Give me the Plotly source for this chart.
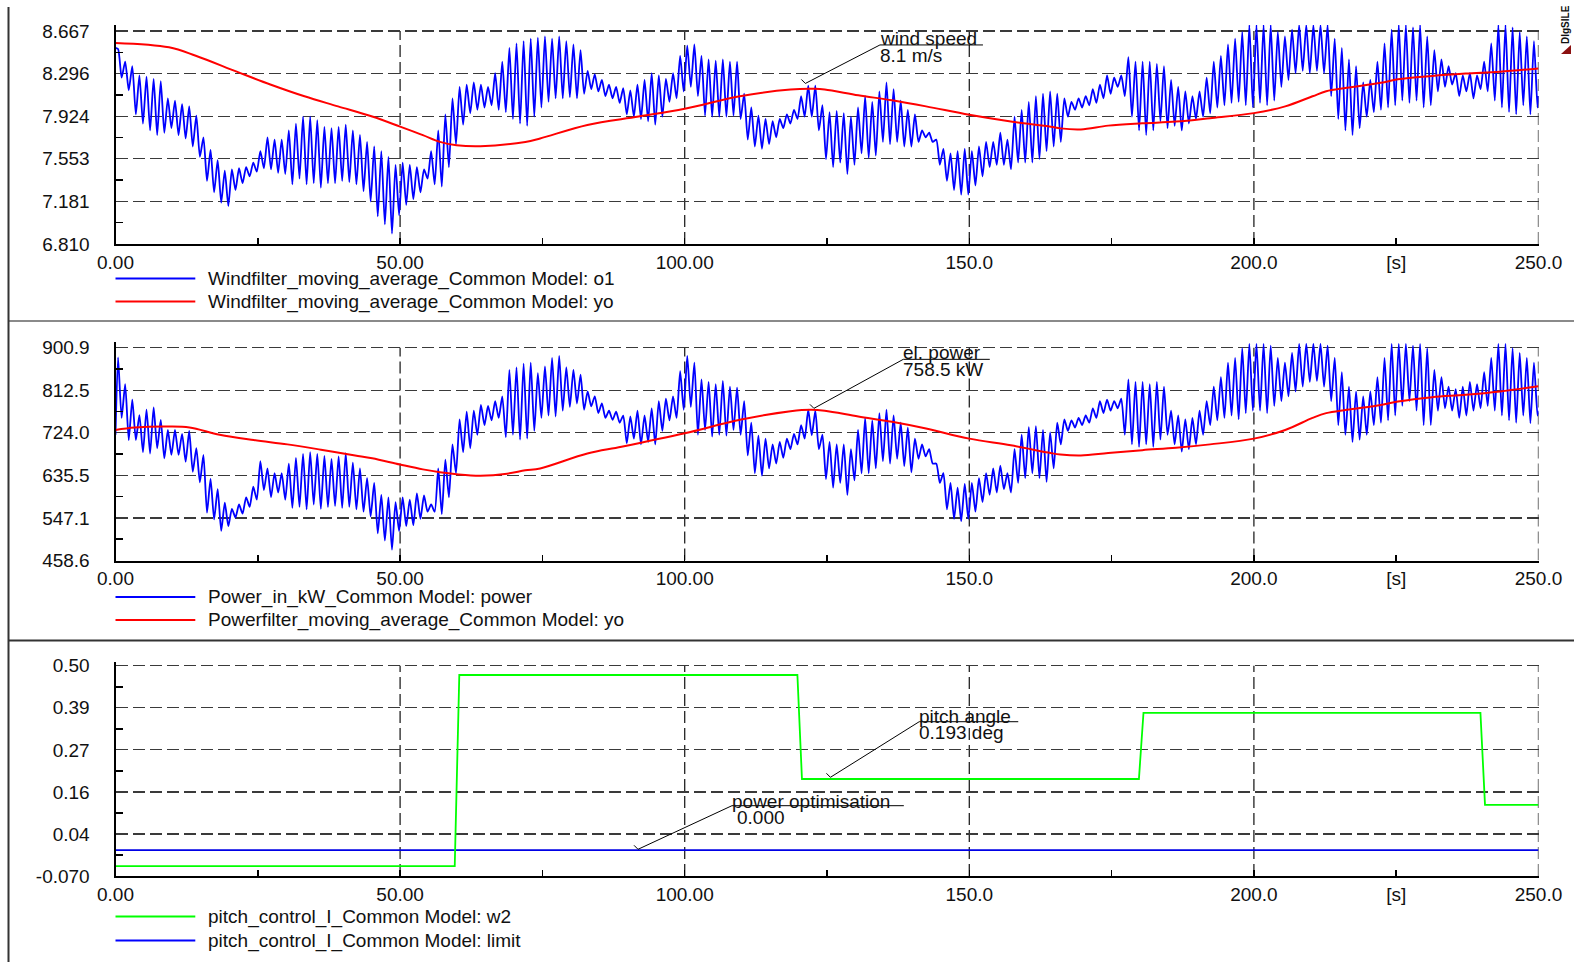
import plotly.graph_objects as go

W, H = 1574, 962

# ---------------- data ----------------
# Panel 1: wind speed (blue: raw, per oscillation cycle peak / trough), 1.25 s per cycle
wind_hi = [
    8.51, 8.40, 8.36, 8.28, 8.27, 8.25, 8.23, 8.08,
    8.06, 8.03, 8.01, 7.93, 7.74, 7.63, 7.54, 7.45,
    7.46, 7.47, 7.48, 7.52, 7.62, 7.74, 7.72, 7.72,
    7.80, 7.86, 7.92, 7.92, 7.89, 7.83, 7.82, 7.83,
    7.85, 7.80, 7.76, 7.70, 7.66, 7.62, 7.57, 7.50,
    7.52, 7.50, 7.48, 7.46, 7.62, 7.80, 7.94, 8.08,
    8.18, 8.20, 8.22, 8.20, 8.18, 8.30, 8.40, 8.52,
    8.56, 8.58, 8.60, 8.61, 8.62, 8.60, 8.62, 8.58,
    8.55, 8.50, 8.32, 8.29, 8.24, 8.20, 8.18, 8.17,
    8.15, 8.20, 8.24, 8.30, 8.28, 8.25, 8.30, 8.45,
    8.54, 8.55, 8.45, 8.42, 8.41, 8.42, 8.40, 8.40,
    8.12, 8.00, 7.93, 7.90, 7.88, 7.90, 7.94, 7.98,
    8.10, 8.19, 8.19, 8.02, 7.96, 7.97, 7.95, 7.92,
    8.00, 8.10, 8.05, 8.14, 8.22, 8.16, 8.06, 7.98,
    7.94, 7.80, 7.78, 7.72, 7.64, 7.60, 7.62, 7.64,
    7.62, 7.66, 7.70, 7.70, 7.78, 7.72, 7.92, 7.98,
    8.05, 8.10, 8.12, 8.14, 8.12, 8.08, 8.05, 8.08,
    8.10, 8.16, 8.20, 8.28, 8.26, 8.28, 8.44, 8.40,
    8.40, 8.40, 8.38, 8.36, 8.24, 8.18, 8.14, 8.10,
    8.14, 8.26, 8.40, 8.45, 8.55, 8.60, 8.66, 8.72,
    8.72, 8.72, 8.72, 8.66, 8.62, 8.68, 8.72, 8.72,
    8.72, 8.72, 8.72, 8.60, 8.52, 8.42, 8.36, 8.22,
    8.24, 8.40, 8.56, 8.68, 8.72, 8.72, 8.70, 8.72,
    8.62, 8.50, 8.42, 8.36, 8.30, 8.28, 8.30, 8.28,
    8.40, 8.56, 8.72, 8.72, 8.70, 8.66, 8.62, 8.58,
]
wind_lo = [
    8.26, 8.15, 7.94, 7.86, 7.80, 7.76, 7.78, 7.82,
    7.76, 7.73, 7.66, 7.57, 7.36, 7.26, 7.17, 7.14,
    7.28, 7.34, 7.40, 7.44, 7.47, 7.46, 7.43, 7.42,
    7.33, 7.38, 7.33, 7.34, 7.30, 7.34, 7.34, 7.36,
    7.35, 7.33, 7.27, 7.18, 7.05, 6.98, 6.90, 7.06,
    7.15, 7.20, 7.26, 7.38, 7.33, 7.31, 7.48, 7.68,
    7.85, 7.95, 7.98, 8.00, 8.02, 7.98, 7.96, 7.90,
    7.86, 7.84, 7.92, 8.00, 8.05, 8.08, 8.08, 8.09,
    8.08, 8.12, 8.16, 8.14, 8.10, 8.08, 8.04, 7.94,
    7.92, 7.90, 7.88, 7.85, 7.92, 8.05, 8.08, 8.14,
    8.18, 8.10, 7.93, 7.92, 7.92, 7.92, 7.93, 7.90,
    7.72, 7.66, 7.64, 7.68, 7.74, 7.82, 7.86, 7.90,
    7.92, 7.92, 7.80, 7.55, 7.48, 7.52, 7.42, 7.50,
    7.60, 7.56, 7.58, 7.70, 7.68, 7.70, 7.66, 7.66,
    7.70, 7.74, 7.70, 7.50, 7.36, 7.28, 7.24, 7.24,
    7.32, 7.40, 7.48, 7.50, 7.50, 7.46, 7.52, 7.52,
    7.52, 7.55, 7.62, 7.66, 7.70, 7.92, 7.98, 8.00,
    8.02, 8.04, 8.08, 8.12, 8.18, 8.10, 7.92, 7.80,
    7.76, 7.80, 7.88, 7.82, 7.84, 7.80, 7.86, 7.90,
    7.92, 7.95, 8.00, 8.02, 8.04, 8.05, 8.02, 8.00,
    8.04, 8.02, 8.06, 8.18, 8.24, 8.30, 8.32, 8.30,
    8.32, 8.30, 8.10, 7.90, 7.80, 7.76, 7.82, 7.92,
    7.96, 7.98, 8.00, 8.02, 8.06, 8.04, 8.06, 8.00,
    8.02, 8.14, 8.18, 8.20, 8.10, 8.14, 8.08, 8.16,
    8.14, 8.06, 8.00, 7.96, 7.94, 8.02, 7.94, 8.00,
]
wind_start, wind_end = 8.52, 8.10

wf_t = [0, 9.4, 14.1, 21.3, 27.2, 33.2, 39.1, 45.1, 50, 54, 57, 59.9, 64.1, 72,
        74.6, 82.9, 91.9, 100, 109.7, 118.6, 122.8, 124.6, 130.5, 136.4, 142.4,
        150, 157.3, 164.3, 166, 169.6, 174.4, 180.4, 186.3, 192.3, 200, 205.5,
        210.3, 212.7, 216.3, 222.3, 225.3, 231.3, 237.2, 243.2, 250]
wf_v = [8.564, 8.526, 8.452, 8.313, 8.201, 8.098, 8.010, 7.921, 7.833, 7.759,
        7.700, 7.671, 7.662, 7.700, 7.730, 7.848, 7.921, 7.989, 8.098, 8.157,
        8.163, 8.157, 8.107, 8.063, 8.010, 7.936, 7.877, 7.833, 7.818, 7.809,
        7.842, 7.862, 7.877, 7.907, 7.951, 8.010, 8.098, 8.142, 8.172, 8.216,
        8.246, 8.275, 8.296, 8.313, 8.340]

# Panel 2: electrical power [kW]
pow_hi = [
    881, 825, 793, 761, 772, 777, 751, 730,
    730, 722, 728, 692, 678, 628, 607, 579,
    566, 575, 590, 612, 665, 650, 640, 640,
    660, 672, 680, 684, 680, 676, 670, 675,
    682, 662, 650, 630, 620, 595, 590, 580,
    590, 585, 598, 594, 575, 650, 668, 700,
    752, 768, 770, 782, 780, 790, 800, 855,
    860, 868, 870, 848, 862, 880, 884, 860,
    855, 845, 810, 800, 785, 770, 768, 760,
    758, 770, 760, 775, 790, 795, 800, 852,
    884, 870, 835, 830, 825, 832, 820, 818,
    790, 745, 718, 712, 700, 705, 712, 722,
    740, 772, 770, 720, 705, 700, 700, 690,
    730, 755, 750, 765, 772, 760, 745, 735,
    712, 700, 690, 660, 640, 620, 610, 618,
    620, 630, 640, 650, 656, 640, 690, 720,
    736, 738, 730, 725, 745, 752, 750, 755,
    760, 775, 790, 793, 790, 795, 835, 830,
    830, 825, 830, 820, 770, 760, 752, 755,
    770, 790, 820, 840, 870, 880, 900, 909,
    909, 909, 905, 880, 870, 890, 909, 909,
    909, 909, 905, 880, 850, 820, 810, 800,
    810, 840, 880, 909, 909, 909, 905, 909,
    900, 855, 840, 820, 815, 820, 830, 825,
    850, 880, 909, 909, 900, 890, 880, 870,
]
pow_lo = [
    755, 709, 709, 684, 681, 692, 671, 678,
    678, 664, 643, 621, 558, 544, 520, 530,
    548, 556, 570, 585, 605, 590, 600, 585,
    568, 570, 565, 575, 566, 570, 572, 568,
    570, 565, 560, 550, 515, 500, 481, 520,
    530, 532, 545, 560, 560, 555, 590, 640,
    684, 692, 720, 740, 750, 755, 715, 720,
    710, 712, 728, 755, 760, 758, 770, 778,
    785, 772, 779, 765, 755, 751, 745, 702,
    712, 700, 705, 700, 728, 750, 755, 772,
    778, 720, 730, 716, 720, 718, 730, 720,
    677, 640, 635, 650, 660, 672, 690, 700,
    712, 719, 690, 628, 610, 620, 595, 625,
    640, 640, 650, 665, 660, 670, 655, 642,
    670, 675, 660, 620, 565, 545, 540, 545,
    560, 580, 595, 600, 607, 600, 620, 630,
    640, 630, 622, 650, 700, 728, 735, 740,
    745, 755, 765, 770, 775, 720, 700, 695,
    700, 695, 710, 720, 700, 685, 690, 700,
    720, 740, 750, 755, 760, 752, 765, 770,
    770, 765, 780, 790, 800, 810, 820, 830,
    832, 820, 790, 740, 720, 705, 710, 720,
    740, 745, 750, 760, 780, 790, 770, 740,
    740, 770, 775, 770, 755, 760, 770, 775,
    780, 770, 760, 750, 745, 760, 744, 760,
]
pow_start, pow_end = 720, 770

pf_t = [0, 3.4, 9.4, 13, 18.3, 24.3, 30.2, 36.1, 42.1, 45.1, 50, 54, 57, 59.9,
        64.1, 68.8, 72, 74.6, 82.9, 88.9, 100, 109.7, 118.6, 122.2, 124.6, 130.5,
        136.4, 142.4, 150, 157.3, 164.3, 166, 169.6, 174.4, 180.4, 186.3, 192.3,
        200, 205.5, 210.3, 212.7, 216.3, 222.3, 225.3, 231.3, 237.2, 243.2, 250]
pf_v = [730, 735, 737, 735, 720, 709, 700, 689, 677, 671, 658, 648, 642, 638,
        635, 639, 646, 650, 681, 695, 723, 751, 769, 772, 770, 758, 747, 733,
        712, 698, 682, 679, 677, 682, 688, 693, 700, 712, 730, 755, 765, 772,
        782, 789, 798, 803, 810, 821]

# Panel 3: pitch control
pitch_t = [0, 59.6, 60.4, 119.8, 120.6, 179.8, 180.6, 239.8, 240.6, 250]
pitch_v = [-0.043, -0.043, 0.475, 0.475, 0.193, 0.193, 0.372, 0.372, 0.123, 0.123]
limit_t = [0, 250]
limit_v = [0.0, 0.0]

x_tickvals = [0, 50, 100, 150, 200, 225, 250]
x_ticktext = ["0.00", "50.00", "100.00", "150.0", "200.0", "[s]", "250.0"]
x_grid = [50, 100, 150, 200, 250]

y1_tickvals = [6.810, 7.1814, 7.5528, 7.9242, 8.2956, 8.667]
y1_ticktext = ["6.810", "7.181", "7.553", "7.924", "8.296", "8.667"]
y2_tickvals = [458.6, 547.06, 635.52, 723.98, 812.44, 900.9]
y2_ticktext = ["458.6", "547.1", "635.5", "724.0", "812.5", "900.9"]
y3_tickvals = [-0.07, 0.044, 0.158, 0.272, 0.386, 0.5]
y3_ticktext = ["-0.070", "0.04", "0.16", "0.27", "0.39", "0.50"]

legend_texts = [
    ["Windfilter_moving_average_Common Model: o1", "Windfilter_moving_average_Common Model: yo"],
    ["Power_in_kW_Common Model: power", "Powerfilter_moving_average_Common Model: yo"],
    ["pitch_control_I_Common Model: w2", "pitch_control_I_Common Model: limit"],
]
legend_colors = [["#0000FF", "#FF0000"], ["#0000FF", "#FF0000"], ["#00FF00", "#0000FF"]]


def osc(hi, lo, start, end):
    t, v = [0.0], [start]
    for k, (h, l) in enumerate(zip(hi, lo)):
        t += [1.25 * k + 0.45, 1.25 * k + 1.075]
        v += [h, l]
    t.append(250.0)
    v.append(end)
    return t, v


FONT = "Liberation Sans, Arial, sans-serif"
BLUE, RED, GREEN = "#0000FF", "#FF0000", "#00FF00"

fig = go.Figure()
wt, wv = osc(wind_hi, wind_lo, wind_start, wind_end)
pt, pv = osc(pow_hi, pow_lo, pow_start, pow_end)

fig.add_trace(go.Scatter(x=wt, y=wv, mode="lines", line=dict(color=BLUE, width=1.8, shape="spline", smoothing=0.6),
                         xaxis="x", yaxis="y"))
fig.add_trace(go.Scatter(x=wf_t, y=wf_v, mode="lines", line=dict(color=RED, width=2, shape="spline"),
                         xaxis="x", yaxis="y"))
fig.add_trace(go.Scatter(x=pt, y=pv, mode="lines", line=dict(color=BLUE, width=1.8, shape="spline", smoothing=0.6),
                         xaxis="x2", yaxis="y2"))
fig.add_trace(go.Scatter(x=pf_t, y=pf_v, mode="lines", line=dict(color=RED, width=2, shape="spline"),
                         xaxis="x2", yaxis="y2"))
fig.add_trace(go.Scatter(x=limit_t, y=limit_v, mode="lines", line=dict(color="#0000E6", width=1.8),
                         xaxis="x3", yaxis="y3"))
fig.add_trace(go.Scatter(x=pitch_t, y=pitch_v, mode="lines", line=dict(color=GREEN, width=1.8),
                         xaxis="x3", yaxis="y3"))


def px(x):
    return x / W


def py(y):
    return 1 - y / H


XDOM = [px(115.5), px(1538.5)]
panels = [
    dict(y=[6.810, 8.72], dom=[py(243.9), py(25.0)], tv=y1_tickvals, tt=y1_ticktext),
    dict(y=[458.6, 912.0], dom=[py(560.5), py(342.4)], tv=y2_tickvals, tt=y2_ticktext),
    dict(y=[-0.07, 0.511], dom=[py(876.0), py(661.7)], tv=y3_tickvals, tt=y3_ticktext),
]

GRID = "#3a3a3a"
DASH = "12px,5px"
layout = {}
shapes = []
for i, p in enumerate(panels):
    s = "" if i == 0 else str(i + 1)
    tv = p["tv"]
    mids = [(a + b) / 2 for a, b in zip(tv[:-1], tv[1:])]
    layout["xaxis" + s] = dict(
        domain=XDOM, range=[0, 250], anchor="y" + s, showgrid=False, zeroline=False,
        showline=True, linecolor="black", linewidth=2, automargin=False,
        tickmode="array", tickvals=x_tickvals, ticktext=x_ticktext,
        ticks="inside", ticklen=6, tickwidth=1.5, tickcolor="black",
        minor=dict(tickmode="array", tickvals=[25, 75, 125, 175], ticks="inside", ticklen=6,
                   tickwidth=1.5, tickcolor="black"),
        tickfont=dict(family=FONT, size=19, color="#111"), ticklabelstandoff=0, fixedrange=True,
    )
    layout["yaxis" + s] = dict(
        domain=p["dom"], range=p["y"], anchor="x" + s, zeroline=False,
        showline=True, linecolor="black", linewidth=2, automargin=False,
        tickmode="array", tickvals=tv, ticktext=p["tt"], ticks="",
        showgrid=True, gridcolor=GRID, griddash=DASH, gridwidth=1.3,
        minor=dict(tickmode="array", tickvals=mids, ticks="inside", ticklen=7,
                   tickwidth=1.5, tickcolor="black", showgrid=False),
        tickfont=dict(family=FONT, size=19, color="#111"), ticklabelstandoff=20, fixedrange=True,
    )
    for gx in x_grid:
        shapes.append(dict(type="line", xref="x" + s, yref="y" + s, x0=gx, x1=gx,
                           y0=p["y"][0], y1=tv[-1], layer="below",
                           line=dict(color="#222", width=1.3, dash=DASH)))

# legends (drawn manually)
legend_rows = [[278.5, 301.5], [597.0, 620.0], [916.5, 940.5]]
annotations = []
for rows, texts, cols in zip(legend_rows, legend_texts, legend_colors):
    for yy, tx, c in zip(rows, texts, cols):
        shapes.append(dict(type="line", xref="paper", yref="paper", x0=px(115.5), x1=px(195.3),
                           y0=py(yy), y1=py(yy), line=dict(color=c, width=1.8)))
        annotations.append(dict(text=tx, xref="paper", yref="paper", x=px(205.5), y=py(yy),
                                xanchor="left", yanchor="middle", showarrow=False,
                                font=dict(family=FONT, size=19, color="#111")))

# separators / frame
shapes.append(dict(type="line", xref="paper", yref="paper", x0=px(8), x1=1, y0=py(321), y1=py(321),
                   line=dict(color="#8a8a8a", width=2)))
shapes.append(dict(type="line", xref="paper", yref="paper", x0=px(8), x1=1, y0=py(640.5), y1=py(640.5),
                   line=dict(color="#333", width=2)))
shapes.append(dict(type="line", xref="paper", yref="paper", x0=px(8.5), x1=px(8.5), y0=py(7), y1=0,
                   line=dict(color="#333", width=2)))
# DIgSILENT mark
shapes.append(dict(type="path", xref="paper", yref="paper",
                   path=f"M {px(1561)},{py(54)} L {px(1571)},{py(54)} L {px(1571)},{py(45)} Z",
                   fillcolor="#8B1010", line=dict(width=0)))
annotations.append(dict(text="<b>DIgSILE</b>", xref="paper", yref="paper", x=px(1566), y=py(25),
                        textangle=-90, showarrow=False, xanchor="center", yanchor="middle",
                        font=dict(family=FONT, size=10, color="#111")))


def callout(s, tip, elbow, end_x, line1, y1, line2, y2, x2=None):
    xr, yr = "x" + s, "y" + s
    shapes.append(dict(type="line", xref=xr, yref=yr, x0=tip[0], y0=tip[1], x1=elbow[0], y1=elbow[1],
                       line=dict(color="black", width=1)))
    shapes.append(dict(type="line", xref=xr, yref=yr, x0=elbow[0], y0=elbow[1], x1=end_x, y1=elbow[1],
                       line=dict(color="black", width=1)))
    shapes.append(dict(type="line", xref=xr, yref=yr, xsizemode="pixel", ysizemode="pixel",
                       xanchor=tip[0], yanchor=tip[1], x0=0, x1=-4, y0=0, y1=4,
                       line=dict(color="black", width=1)))
    annotations.append(dict(text=line1, xref=xr, yref=yr, x=elbow[0], y=y1, xanchor="left",
                            yanchor="middle", showarrow=False, xshift=-2,
                            font=dict(family=FONT, size=19, color="#111")))
    annotations.append(dict(text=line2, xref=xr, yref=yr, x=x2 if x2 is not None else elbow[0], y=y2,
                            xanchor="left", yanchor="middle", showarrow=False, xshift=-2,
                            font=dict(family=FONT, size=19, color="#111")))


callout("", (121.2, 8.21), (134.3, 8.546), 152.4, "wind speed", 8.599, "8.1 m/s", 8.452)
callout("2", (122.7, 774.9), (138.4, 876.8), 153.6, "el. power", 891.8, "758.5 kW", 856.6)
callout("3", (125.6, 0.1976), (141.2, 0.3483), 158.6, "pitch angle", 0.3637, "0.193 deg", 0.3185)
callout("3", (91.8, 0.0024), (108.3, 0.1206), 138.5, "power optimisation", 0.1333, "0.000", 0.088, x2=109.2)

fig.update_layout(
    width=W, height=H, margin=dict(l=0, r=0, t=0, b=0, pad=0, autoexpand=False),
    paper_bgcolor="white", plot_bgcolor="white", showlegend=False,
    shapes=shapes, annotations=annotations, **layout,
)
fig.write_html(
    "out.html",
    config={"displayModeBar": False, "staticPlot": True},
    post_script="document.body.style.margin='0px';document.body.style.padding='0px';"
                "document.body.style.overflow='hidden';",
)
